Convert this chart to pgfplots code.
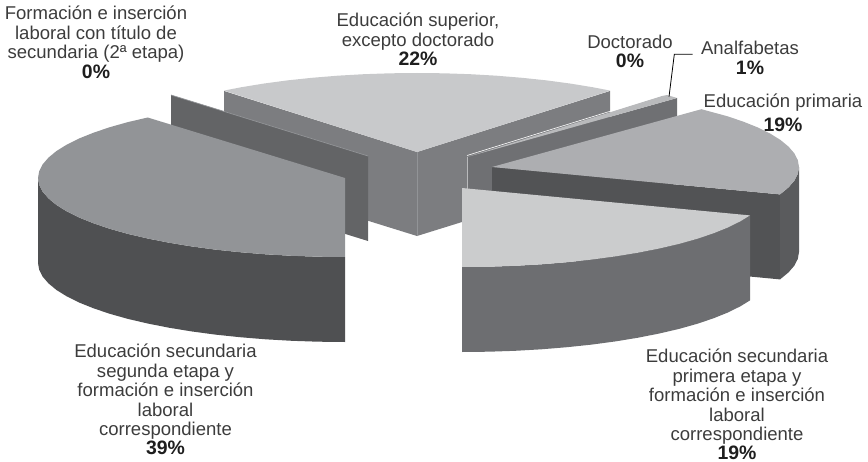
\documentclass[border=0pt]{standalone}
\usepackage{pgfplots}
\pgfplotsset{compat=1.18}
\usepackage{fontspec}
\setmainfont{Liberation Sans}
\definecolor{SupTop}{HTML}{C8C9CB}
\definecolor{SupSide}{HTML}{7C7D80}
\definecolor{FormPlate}{HTML}{636466}
\definecolor{DocPlate}{HTML}{6F7073}
\definecolor{Sliver}{HTML}{B9BABC}
\definecolor{PriTop}{HTML}{ADAEB1}
\definecolor{PriCut}{HTML}{525355}
\definecolor{PriSide}{HTML}{5A5B5D}
\definecolor{PrimTop}{HTML}{CBCCCD}
\definecolor{PrimSide}{HTML}{6D6E71}
\definecolor{SegTop}{HTML}{929497}
\definecolor{SegSide}{HTML}{4F5052}
\definecolor{LabelInk}{HTML}{3C3C3C}
\definecolor{PctInk}{HTML}{1E1E1E}
\newcommand{\pct}[1]{\textcolor{PctInk}{\textbf{\fontsize{19.5}{19.5}\selectfont #1}}}
\tikzset{lab/.style={align=center, inner sep=0pt, anchor=north, text=LabelInk,
    font=\fontsize{18.6}{19.5}\selectfont}}

\begin{document}
\begin{tikzpicture}
\begin{axis}[
    hide axis, scale only axis,
    width=868bp, height=462bp,
    xmin=0, xmax=868, ymin=0, ymax=462,
    y dir=reverse, clip=false,
    every axis plot/.append style={no markers, draw=none},
]
\path (axis cs:0,0) rectangle (axis cs:868,462);
% Educacion superior, side faces then top
\addplot[fill=SupSide] coordinates {(224,91)(417,152)(417,236)(224,176)} --cycle;
\addplot[fill=SupSide] coordinates {(417,152)(610,91)(610,176)(417,236)} --cycle;
\addplot[fill=SupTop] coordinates {(417,152)(224,90.6)(240.9,87.3)(263.5,83.6)(287.3,80.4)(312,77.8)(337.5,75.7)(363.7,74.2)(390.2,73.3)(417,73)(443.8,73.3)(470.3,74.2)(496.5,75.7)(522,77.8)(546.7,80.4)(570.5,83.6)(593.1,87.3)(610.2,90.6)} --cycle;
\addplot[draw=SegTop, line width=0.5pt] coordinates {(417,152)(417,236)};
% Formacion con titulo de secundaria (0%)
\addplot[fill=FormPlate] coordinates {(171,95)(368,156)(368,241)(171,180)} --cycle;
\addplot[draw=SegTop, line width=0.7pt] coordinates {(171,95)(368,156)};
% Doctorado and Analfabetas
\addplot[fill=DocPlate] coordinates {(467,157)(677,98)(677,183)(467,242)} --cycle;
\addplot[fill=Sliver] coordinates {(467,157)(662,96)(667,95)(677,98)} --cycle;
\addplot[draw=white, line width=0.6pt] coordinates {(467,155.5)(661,95.5)};
\addplot[draw=Sliver, line width=0.7pt] coordinates {(467,157)(467,200)};
% Educacion primaria
\addplot[fill=PriCut] coordinates {(492,167)(780,194.4)(780,279.4)(492,252)} --cycle;
\addplot[fill=PriSide] coordinates {(799,167)(797.8,173.9)(794.3,180.7)(788.5,187.4)(780,194.4)(780,279.4)(788.5,272.4)(794.3,265.7)(797.8,258.9)(799,252)} --cycle;
\addplot[fill=PriTop] coordinates {(492,167)(701.4,109.2)(727.2,116.2)(743.5,121.7)(757.9,127.5)(770.2,133.6)(780.5,140)(788.5,146.6)(794.3,153.3)(797.8,160.1)(799,167)(797.8,173.9)(794.3,180.7)(788.5,187.4)(780,194.4)} --cycle;
% Educacion secundaria primera etapa
\addplot[fill=PrimSide] coordinates {(750,215.4)(740.2,221.4)(727.9,227.5)(713.5,233.3)(697.2,238.8)(679.1,243.9)(659.3,248.5)(638.1,252.7)(615.5,256.4)(591.7,259.6)(567,262.2)(541.5,264.3)(515.3,265.8)(488.8,266.7)(462,267)(462,352)(488.8,351.7)(515.3,350.8)(541.5,349.3)(567,347.2)(591.7,344.6)(615.5,341.4)(638.1,337.7)(659.3,333.5)(679.1,328.9)(697.2,323.8)(713.5,318.3)(727.9,312.5)(740.2,306.4)(750,300.4)} --cycle;
\addplot[fill=PrimTop] coordinates {(462,188)(750,215.4)(740.2,221.4)(727.9,227.5)(713.5,233.3)(697.2,238.8)(679.1,243.9)(659.3,248.5)(638.1,252.7)(615.5,256.4)(591.7,259.6)(567,262.2)(541.5,264.3)(515.3,265.8)(488.8,266.7)(462,267)} --cycle;
% Educacion secundaria segunda etapa
\addplot[fill=SegSide] coordinates {(38,178)(39.2,184.9)(42.7,191.7)(48.5,198.4)(56.5,205)(66.8,211.4)(79.1,217.5)(93.5,223.3)(109.8,228.8)(127.9,233.9)(147.7,238.5)(168.9,242.7)(191.5,246.4)(215.3,249.6)(240,252.2)(265.5,254.3)(291.7,255.8)(318.2,256.7)(345,257)(345,342)(318.2,341.7)(291.7,340.8)(265.5,339.3)(240,337.2)(215.3,334.6)(191.5,331.4)(168.9,327.7)(147.7,323.5)(127.9,318.9)(109.8,313.8)(93.5,308.3)(79.1,302.5)(66.8,296.4)(56.5,290)(48.5,283.4)(42.7,276.7)(39.2,269.9)(38,263)} --cycle;
\addplot[fill=SegTop] coordinates {(345,178)(147.7,117.5)(127.9,122.1)(109.8,127.2)(93.5,132.7)(79.1,138.5)(66.8,144.6)(56.5,151)(48.5,157.6)(42.7,164.3)(39.2,171.1)(38,178)(39.2,184.9)(42.7,191.7)(48.5,198.4)(56.5,205)(66.8,211.4)(79.1,217.5)(93.5,223.3)(109.8,228.8)(127.9,233.9)(147.7,238.5)(168.9,242.7)(191.5,246.4)(215.3,249.6)(240,252.2)(265.5,254.3)(291.7,255.8)(318.2,256.7)(345,257)} --cycle;
% leader to Analfabetas
\addplot[draw=black, line width=0.8pt] coordinates {(669,96.7)(674.3,54.3)(692.7,54.3)};
% labels
\node[lab] at (axis cs:96,6) {Formación e inserción\\ laboral con título de\\ secundaria (2ª etapa)\\ \pct{0\%}};
\node[lab] at (axis cs:418,13) {Educación superior,\\ excepto doctorado\\ \pct{22\%}};
\node[lab] at (axis cs:630,34.5) {Doctorado\\ \pct{0\%}};
\node[lab] at (axis cs:750,41) {Analfabetas\\ \pct{1\%}};
\node[lab] at (axis cs:783,93.5) {Educación primaria\\[4.5pt] \pct{19\%}};
\node[lab] at (axis cs:165.5,344) {Educación secundaria\\ segunda etapa y\\ formación e inserción\\ laboral\\ correspondiente\\ \pct{39\%}};
\node[lab] at (axis cs:737,349) {Educación secundaria\\ primera etapa y\\ formación e inserción\\ laboral\\ correspondiente};
\node[inner sep=0pt, anchor=base] at (axis cs:737,459) {\pct{19\%}};
\end{axis}
\end{tikzpicture}
\end{document}
